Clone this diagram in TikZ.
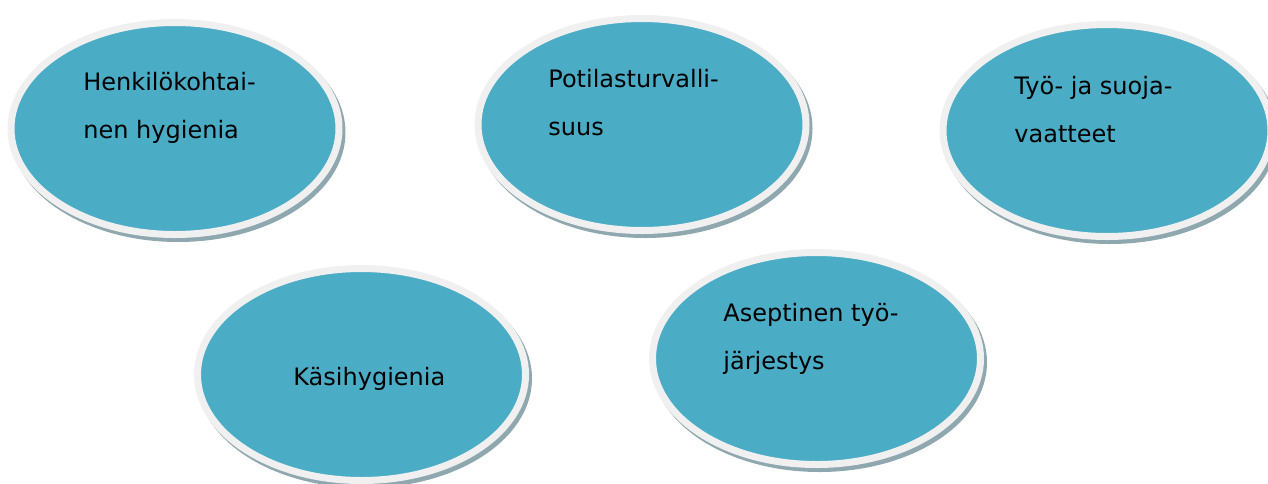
\documentclass[tikz,border=0pt]{standalone}
\usepackage{fontspec}
\setmainfont{DejaVu Sans}
\usetikzlibrary{shapes.geometric,shadows}
\definecolor{bubblecol}{HTML}{4BACC6}
\definecolor{rimcol}{HTML}{F0F0F0}
\definecolor{shadecol}{HTML}{8FA8B0}
\begin{document}
\begin{tikzpicture}[x=0.5pt,y=-0.5pt,
  bubble/.style={ellipse, fill=bubblecol, draw=rimcol, line width=3.5pt,
    inner sep=0pt, minimum width=164pt, minimum height=106pt,
    general shadow={draw=shadecol, line width=3.5pt, shadow xshift=1.5pt, shadow yshift=-2pt}},
  txt/.style={anchor=base west, align=left, inner sep=0pt,
    font=\fontsize{12pt}{24pt}\selectfont}]
\useasboundingbox (0,0) rectangle (1268,483);
\node[bubble] (e1) at (175,128.5) {};
\node[bubble] (e2) at (642,124.5) {};
\node[bubble] (e3) at (1107,130.5) {};
\node[bubble] (e4) at (361.5,374.5) {};
\node[bubble] (e5) at (816.5,358.5) {};
% base anchor of a two-line node is the baseline of its last line
\node[txt] (t1) at (83,138) {Henkilökohtai-\\nen hygienia};
\node[txt] (t2) at (548,135) {Potilasturvalli-\\suus};
\node[txt] (t3) at (1014,142) {Työ- ja suoja-\\vaatteet};
\node[txt] (t4) at (293,385) {Käsihygienia};
\node[txt] (t5) at (723,369) {Aseptinen työ-\\järjestys};
\end{tikzpicture}
\end{document}
